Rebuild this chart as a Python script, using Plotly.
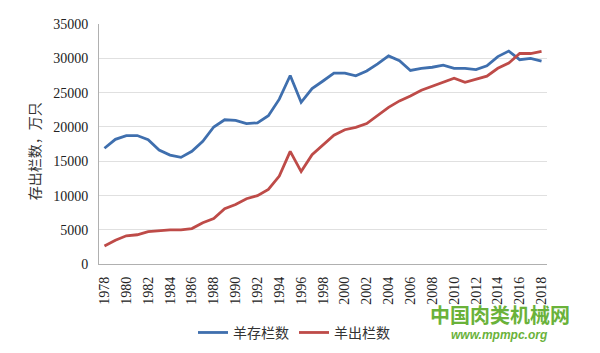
import plotly.graph_objects as go

years = [str(y) for y in range(1978, 2019)]
stock = [16900, 18200, 18750, 18750, 18150, 16650, 15900, 15570, 16450, 17900,
         20000, 21050, 20950, 20500, 20600, 21650, 24050, 27500, 23600, 25600,
         26700, 27850, 27850, 27450, 28150, 29180, 30350, 29650, 28230, 28550,
         28700, 29000, 28550, 28550, 28370, 28900, 30250, 31050, 29800, 30000,
         29600]
slaughter = [2650, 3500, 4150, 4300, 4750, 4900, 5000, 5000, 5200, 6050,
             6650, 8100, 8700, 9550, 10000, 10900, 12850, 16450, 13500, 15950,
             17350, 18800, 19600, 19950, 20500, 21650, 22850, 23800, 24500, 25350,
             25950, 26500, 27100, 26500, 26900, 27400, 28550, 29300, 30700, 30700,
             31000]
tick_years = years[::2]
yticks = [0, 5000, 10000, 15000, 20000, 25000, 30000, 35000]
ytick_text = [str(v) for v in yticks]

serif = "'Liberation Serif', 'Times New Roman', serif"
cjk = "Noto Sans CJK SC"

fig = go.Figure()
fig.add_trace(go.Scatter(x=years, y=stock, mode="lines", name="羊存栏数",
                         line=dict(color="#3f6fae", width=2.8)))
fig.add_trace(go.Scatter(x=years, y=slaughter, mode="lines", name="羊出栏数",
                         line=dict(color="#be4b48", width=2.8)))

fig.update_layout(
    width=600, height=353,
    margin=dict(l=99, r=53, t=24, b=85),
    paper_bgcolor="white", plot_bgcolor="white",
    showlegend=True,
    legend=dict(orientation="h", xref="container", yref="container",
                x=0.49, xanchor="center", y=0.057, yanchor="middle",
                font=dict(family=cjk, size=14, color="#333333"),
                itemwidth=30),
    xaxis=dict(type="category", range=[-0.5, 40.5],
               tickmode="array", tickvals=tick_years, ticktext=tick_years,
               tickangle=-90, tickfont=dict(family=serif, size=14, color="#222222"),
               showgrid=False, showline=True, linecolor="#b0b0b0", linewidth=1,
               ticks="", ticklabelstandoff=6),
    yaxis=dict(range=[0, 35000], tickmode="array", tickvals=yticks, ticktext=ytick_text,
               tickfont=dict(family=serif, size=14, color="#222222"),
               showgrid=True, gridcolor="#e0e0e0", gridwidth=1,
               showline=True, linecolor="#b0b0b0", linewidth=1,
               zeroline=False, ticks="", ticklabelstandoff=7),
)

fig.add_annotation(text="存出栏数，万只", xref="paper", yref="paper",
                   x=-0.17, y=0.47, textangle=-90, showarrow=False,
                   font=dict(family=cjk, size=14, color="#333333"))

# watermark texts
fig.add_annotation(text="<b>中国肉类机械网</b>", xref="paper", yref="paper",
                   x=0.895, y=-0.145, xanchor="center", yanchor="top", showarrow=False,
                   borderpad=0,
                   font=dict(family=cjk, size=20, color="#6ab23a"))
fig.add_annotation(text="<b><i>www.mpmpc.org</i></b>", xref="paper", yref="paper",
                   x=0.895, y=-0.262, xanchor="center", yanchor="top", showarrow=False,
                   borderpad=0,
                   font=dict(family="Liberation Sans", size=12, color="#6ab23a"))

fig.write_html("out.html")
